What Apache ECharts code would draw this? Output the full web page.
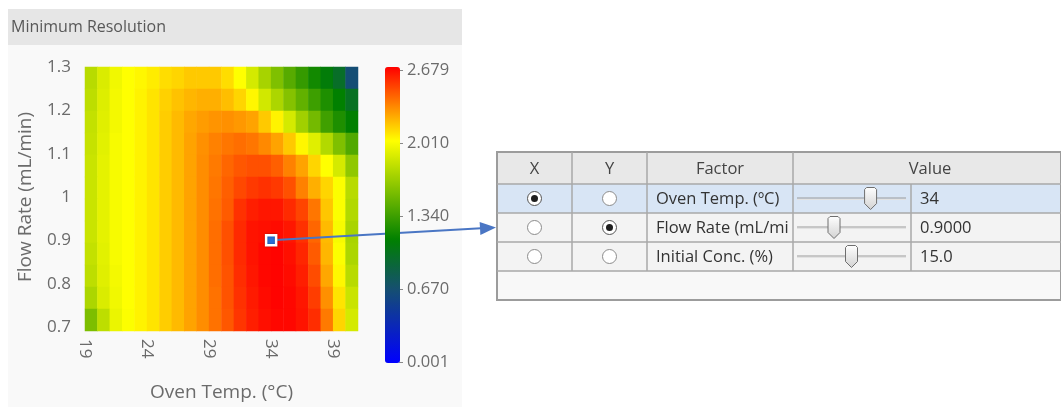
<!DOCTYPE html>
<html><head><meta charset="utf-8">
<script src="https://cdn.jsdelivr.net/npm/echarts@6/dist/echarts.min.js"></script>
<style>html,body{margin:0;padding:0;background:#fff}#c{width:1061px;height:407px}</style>
</head><body><div id="c"></div>
<script>
// ---------- data ----------
const chartTitle = 'Minimum Resolution';
const xAxisName = 'Oven Temp. (°C)';
const yAxisName = 'Flow Rate (mL/min)';
const ovenTempTicks = ['19','20','21','22','23','24','25','26','27','28','29','30','31','32','33','34','35','36','37','38','39','40','41'];
const cellTemps = [19.5,20.5,21.5,22.5,23.5,24.5,25.5,26.5,27.5,28.5,29.5,30.5,31.5,32.5,33.5,34.5,35.5,36.5,37.5,38.5,39.5,40.5];
const cellFlows = [1.275,1.225,1.175,1.125,1.075,1.025,0.975,0.925,0.875,0.825,0.775,0.725]; // top to bottom
const res_1275 = [1.76,1.88,1.96,2.01,2.03,2.06,2.10,2.12,2.15,2.15,2.15,2.10,2.01,1.86,1.70,1.56,1.42,1.30,1.18,1.08,0.96,0.65];
const res_1225 = [1.78,1.89,1.97,2.01,2.04,2.08,2.13,2.17,2.20,2.22,2.22,2.18,2.12,2.03,1.85,1.72,1.58,1.46,1.33,1.22,1.12,0.98];
const res_1175 = [1.80,1.90,1.97,2.01,2.04,2.08,2.14,2.19,2.24,2.27,2.29,2.30,2.28,2.25,2.15,2.04,1.86,1.68,1.52,1.34,1.22,1.12];
const res_1125 = [1.81,1.91,1.98,2.01,2.04,2.08,2.14,2.19,2.25,2.30,2.34,2.37,2.39,2.37,2.32,2.25,2.15,2.03,1.90,1.74,1.56,1.40];
const res_1075 = [1.82,1.92,1.98,2.01,2.04,2.08,2.14,2.19,2.25,2.31,2.36,2.41,2.45,2.47,2.47,2.43,2.34,2.25,2.12,2.01,1.86,1.62];
const res_1025 = [1.82,1.92,1.98,2.01,2.04,2.08,2.14,2.19,2.25,2.31,2.37,2.43,2.49,2.53,2.55,2.53,2.47,2.34,2.22,2.12,2.00,1.76];
const res_0975 = [1.82,1.92,1.98,2.01,2.04,2.08,2.14,2.19,2.25,2.31,2.38,2.44,2.55,2.60,2.62,2.62,2.57,2.50,2.37,2.16,2.00,1.74];
const res_0925 = [1.82,1.92,1.98,2.01,2.04,2.08,2.14,2.19,2.25,2.31,2.39,2.47,2.57,2.63,2.64,2.65,2.62,2.55,2.41,2.19,1.98,1.71];
const res_0875 = [1.80,1.91,1.98,2.01,2.04,2.08,2.14,2.19,2.25,2.31,2.39,2.47,2.57,2.63,2.66,2.67,2.64,2.58,2.44,2.20,2.00,1.72];
const res_0825 = [1.78,1.90,1.97,2.01,2.04,2.08,2.14,2.19,2.25,2.31,2.39,2.46,2.56,2.62,2.66,2.67,2.65,2.60,2.48,2.24,2.03,1.76];
const res_0775 = [1.72,1.88,1.96,2.01,2.04,2.08,2.14,2.19,2.25,2.31,2.38,2.46,2.55,2.61,2.65,2.67,2.66,2.62,2.52,2.30,2.08,1.82];
const res_0725 = [1.55,1.78,1.94,2.00,2.04,2.08,2.14,2.19,2.25,2.31,2.38,2.45,2.54,2.60,2.64,2.66,2.66,2.63,2.56,2.36,2.12,1.86];
const colorbarMin = 0.001, colorbarMax = 2.679;
const colorbarTicks = ['0.001','0.670','1.340','2.010','2.679'];
const colorScale = ['#0000ff','#071acf','#0e35a0','#154f70','#0b6739','#008000','#40a000','#80c000','#bfdf00','#ffff00','#ffaa00','#ff5500','#ff0000'];
const markerPoint = ['34', 0.9];
// factor table
const tableHeaders = ['X','Y','Factor','Value'];
const factorNames = ['Oven Temp. (ºC)','Flow Rate (mL/mi','Initial Conc. (%)'];
const factorValues = [34, 0.9, 15];
const factorLabels = ['34','0.9000','15.0'];
const factorMin = [19, 0.7, 10];
const factorMax = [41, 1.3, 20];
const xSelected = [true,false,false];
const ySelected = [false,true,false];

// ---------- build ----------
const resolutionRows = [res_1275,res_1225,res_1175,res_1125,res_1075,res_1025,res_0975,res_0925,res_0875,res_0825,res_0775,res_0725];
const heatData = [];
resolutionRows.forEach((row, r) => row.forEach((v, c) => heatData.push([c, resolutionRows.length - 1 - r, v])));
const FONT = '"Open Sans", "Noto Sans", sans-serif';
const AXC = '#6b6b6b';

const chart = echarts.init(document.getElementById('c'), null, {renderer: 'canvas'});
const G = {left: 85, top: 67, width: 273, height: 264};

chart.setOption({
  backgroundColor: '#ffffff',
  animation: false,
  textStyle: {fontFamily: FONT},
  grid: [
    Object.assign({}, G),
    Object.assign({}, G),
    {left: 399, top: 70, width: 1, height: 292}
  ],
  xAxis: [
    {gridIndex: 0, type: 'category', data: cellTemps, show: false},
    {gridIndex: 1, type: 'category', data: ovenTempTicks, boundaryGap: false,
     axisLine: {show: false}, axisTick: {show: false}, splitLine: {show: false},
     axisLabel: {interval: 4, rotate: -90, color: AXC, fontSize: 17, margin: 12, fontFamily: FONT},
     name: xAxisName, nameLocation: 'middle', nameGap: 56,
     nameTextStyle: {color: AXC, fontSize: 19, fontFamily: FONT}},
    {gridIndex: 2, type: 'value', show: false}
  ],
  yAxis: [
    {gridIndex: 0, type: 'category', data: cellFlows.slice().reverse(), show: false},
    {gridIndex: 1, type: 'value', min: 0.7, max: 1.3, interval: 0.1,
     axisLine: {show: false}, axisTick: {show: false}, splitLine: {show: false},
     axisLabel: {color: AXC, fontSize: 17, margin: 14, fontFamily: FONT},
     name: yAxisName, nameLocation: 'middle', nameGap: 50,
     nameTextStyle: {color: AXC, fontSize: 19, fontFamily: FONT}},
    {gridIndex: 2, type: 'category', data: colorbarTicks, boundaryGap: false, position: 'right',
     axisLine: {show: false}, axisTick: {show: true, length: 4, lineStyle: {color: '#888'}},
     splitLine: {show: false},
     axisLabel: {color: AXC, fontSize: 16.5, margin: 7, fontFamily: FONT}}
  ],
  visualMap: {
    type: 'continuous', min: colorbarMin, max: colorbarMax, seriesIndex: 0, dimension: 2,
    left: 385, top: 67, itemWidth: 15, itemHeight: 296, padding: 0,
    calculable: false, hoverLink: false, realtime: false,
    inRange: {color: colorScale}
  },
  series: [
    {type: 'heatmap', xAxisIndex: 0, yAxisIndex: 0, data: heatData, progressive: 0,
     emphasis: {disabled: true}, itemStyle: {borderWidth: 0}},
    {type: 'scatter', xAxisIndex: 1, yAxisIndex: 1, data: [markerPoint], z: 6,
     symbol: 'rect', symbolSize: 10,
     itemStyle: {color: '#2a6fd6', opacity: 1, borderColor: '#ffffff', borderWidth: 2.5, shadowBlur: 2, shadowColor: 'rgba(0,0,0,0.35)'}}
  ],
  graphic: [
    {type: 'rect', id: 'titlebar', z: -10, shape: {x: 8, y: 9, width: 454, height: 36}, style: {fill: '#e6e6e6'}},
    {type: 'rect', id: 'panel', z: -10, shape: {x: 8, y: 45, width: 454, height: 362}, style: {fill: '#f9f9f9'}},
    {type: 'text', id: 'title', z: 1, style: {text: chartTitle, x: 11, y: 27, font: '16px ' + FONT, fill: '#585858',
      textVerticalAlign: 'middle', verticalAlign: 'middle'}}
  ]
});

// ---------- arrow + factor table ----------
const mp = chart.convertToPixel({gridIndex: 1}, [ovenTempTicks.indexOf(markerPoint[0]), markerPoint[1]]);
const els = [];
const tip = [496, 227.5];
const dx = tip[0] - mp[0], dy = tip[1] - mp[1], L = Math.hypot(dx, dy);
const ux = dx / L, uy = dy / L;
const bx = tip[0] - 16 * ux, by = tip[1] - 16 * uy;
els.push({type: 'line', id: 'arrowLine', z: 4, shape: {x1: mp[0], y1: mp[1], x2: bx + ux, y2: by + uy},
  style: {stroke: '#4a76c4', lineWidth: 2}});
els.push({type: 'polygon', id: 'arrowHead', z: 4, shape: {points: [tip, [bx - uy * 6.5, by + ux * 6.5], [bx + uy * 6.5, by - ux * 6.5]]},
  style: {fill: '#4a76c4'}});

const T = {x0: 497, x1: 1061, y0: 152, yH: 184, rowH: 29, yEnd: 300, cX: 572, cY: 647, cF: 793, cV: 911};
const nRows = factorNames.length;
const rowsBottom = T.yH + nRows * T.rowH;
const TF = '16.5px ' + FONT;
let k = 0;
const add = (o) => { o.id = 'tb' + (k++); els.push(o); };
add({type: 'rect', z: 1, shape: {x: T.x0, y: T.y0, width: T.x1 - T.x0, height: T.yEnd - T.y0}, style: {fill: '#f8f8f8', stroke: '#9c9c9c', lineWidth: 2}});
add({type: 'rect', z: 1, shape: {x: T.x0 + 1, y: T.y0 + 1, width: T.x1 - T.x0 - 2, height: T.yH - T.y0 - 1}, style: {fill: '#e8e8e8'}});
for (let i = 0; i < nRows; i++) {
  const y = T.yH + i * T.rowH;
  add({type: 'rect', z: 1, shape: {x: T.x0 + 1, y: y, width: T.x1 - T.x0 - 2, height: T.rowH}, style: {fill: i === 0 ? '#d8e5f5' : '#f3f3f3'}});
}
for (let i = 0; i <= nRows; i++) {
  const y = T.yH + i * T.rowH;
  add({type: 'line', z: 2, shape: {x1: T.x0, y1: y, x2: T.x1, y2: y}, style: {stroke: '#a8a8a8', lineWidth: 1.5}});
}
[T.cX, T.cY, T.cF].forEach(x => add({type: 'line', z: 2, shape: {x1: x, y1: T.y0, x2: x, y2: rowsBottom}, style: {stroke: '#a8a8a8', lineWidth: 1.5}}));
add({type: 'line', z: 2, shape: {x1: T.cV, y1: T.yH, x2: T.cV, y2: rowsBottom}, style: {stroke: '#a8a8a8', lineWidth: 1.5}});
const hCenters = [(T.x0 + T.cX) / 2, (T.cX + T.cY) / 2, (T.cY + T.cF) / 2, (T.cF + T.x1) / 2 + 3];
tableHeaders.forEach((h, i) => add({type: 'text', z: 3, style: {text: h, x: hCenters[i], y: (T.y0 + T.yH) / 2 + 1, font: TF, fill: '#444',
  textAlign: 'center', align: 'center', textVerticalAlign: 'middle', verticalAlign: 'middle'}}));
for (let i = 0; i < nRows; i++) {
  const cy = T.yH + i * T.rowH + T.rowH / 2;
  [[hCenters[0], xSelected[i]], [hCenters[1], ySelected[i]]].forEach(([cx, sel]) => {
    add({type: 'circle', z: 3, shape: {cx: cx, cy: cy, r: 7}, style: {fill: '#ffffff', stroke: sel ? '#555' : '#8c8c8c', lineWidth: 1}});
    if (sel) add({type: 'circle', z: 4, shape: {cx: cx, cy: cy, r: 3.5}, style: {fill: '#1e1e1e'}});
  });
  add({type: 'text', z: 3, style: {text: factorNames[i], x: T.cY + 9, y: cy + 1, font: TF, fill: '#333',
    textVerticalAlign: 'middle', verticalAlign: 'middle'}});
  const sx0 = 797, sx1 = 906;
  add({type: 'line', z: 3, shape: {x1: sx0, y1: cy - 0.5, x2: sx1, y2: cy - 0.5}, style: {stroke: '#9a9a9a', lineWidth: 1}});
  add({type: 'line', z: 3, shape: {x1: sx0, y1: cy + 1, x2: sx1, y2: cy + 1}, style: {stroke: '#e2e2e2', lineWidth: 1}});
  const tx = sx0 + 2 + (factorValues[i] - factorMin[i]) / (factorMax[i] - factorMin[i]) * (sx1 - sx0 - 4);
  add({type: 'polygon', z: 4, shape: {points: [[tx - 6, cy - 9], [tx - 4, cy - 11], [tx + 4, cy - 11], [tx + 6, cy - 9], [tx + 6, cy + 5], [tx, cy + 11], [tx - 6, cy + 5]]},
    style: {fill: new echarts.graphic.LinearGradient(0, 0, 0, 1, [{offset: 0, color: '#ffffff'}, {offset: 1, color: '#d2d2d2'}]), stroke: '#6e6e6e', lineWidth: 1}});
  add({type: 'text', z: 3, style: {text: factorLabels[i], x: T.cV + 9, y: cy + 1, font: TF, fill: '#333',
    textVerticalAlign: 'middle', verticalAlign: 'middle'}});
}
chart.setOption({graphic: els});
</script>
</body></html>
